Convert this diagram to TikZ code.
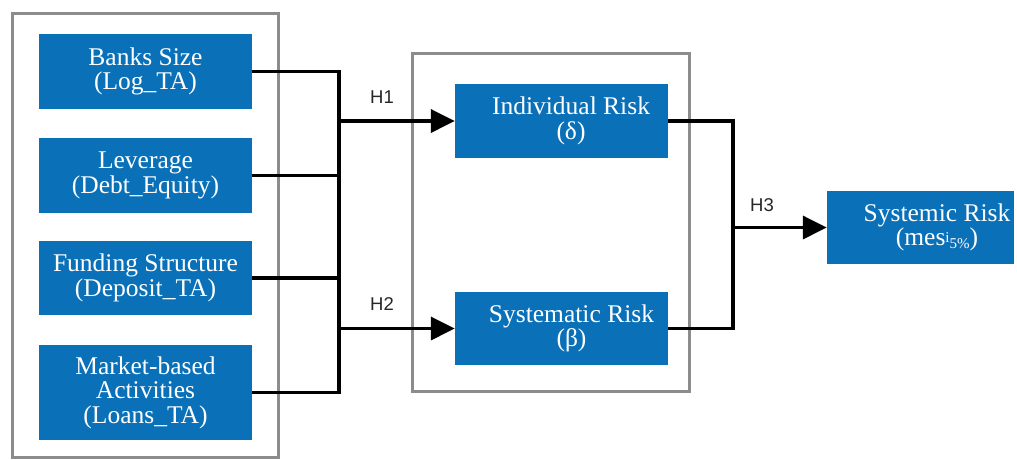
\documentclass[tikz,border=0pt]{standalone}
\usepackage{fontspec}
\setmainfont{Liberation Serif}
\newfontfamily\hfont{Liberation Sans}
\usetikzlibrary{arrows.meta}
\definecolor{boxblue}{RGB}{10,113,185}
\definecolor{framegray}{RGB}{140,140,140}
\begin{document}
\begin{tikzpicture}[x=1pt,y=-1pt,
  frame/.style={draw=framegray,line width=3pt},
  bluebox/.style={fill=boxblue,draw=none,inner sep=0pt},
  boxtext/.style={text=white,align=center,inner sep=0pt,font=\fontsize{25.5}{24.5}\selectfont},
  conn/.style={line width=3.5pt,line join=miter},
  arr/.style={conn,-{Triangle[length=24pt,width=23pt]}},
  hlabel/.style={font=\hfont\fontsize{18.5}{18.5}\selectfont,inner sep=0pt,text=black!85}]
\useasboundingbox (0,0) rectangle (1017,459);
% frames
\draw[frame] (12,13) rectangle (278,457);
\draw[frame] (412,53) rectangle (689,391);
% left boxes
\node[bluebox,minimum width=213pt,minimum height=75pt] (b1) at (145.5,71.5) {};
\node[boxtext] at (b1.center) {Banks Size\\(Log\_TA)};
\node[bluebox,minimum width=213pt,minimum height=75pt] (b2) at (145.5,175.5) {};
\node[boxtext] at (b2.center) {Leverage\\(Debt\_Equity)};
\node[bluebox,minimum width=213pt,minimum height=74pt] (b3) at (145.5,278) {};
\node[boxtext] at (b3.center) {Funding Structure\\(Deposit\_TA)};
\node[bluebox,minimum width=213pt,minimum height=95pt] (b4) at (145.5,392.5) {};
\node[boxtext] at (b4.center) {Market-based\\Activities\\(Loans\_TA)};
% middle boxes
\node[bluebox,minimum width=213pt,minimum height=74pt] (ind) at (561.5,121) {};
\node[boxtext] at ([xshift=9.5pt]ind.center) {Individual Risk\\(δ)};
\node[bluebox,minimum width=213pt,minimum height=73pt] (sys) at (561.5,328.5) {};
\node[boxtext] at ([xshift=10pt]sys.center) {Systematic Risk\\(β)};
% right box
\node[bluebox,minimum width=187pt,minimum height=73pt] (sr) at (920.5,227.5) {};
\node[boxtext] at ([xshift=16.5pt]sr.center) {Systemic Risk\\(mes\raisebox{3pt}{\fontsize{15}{15}\selectfont i}\raisebox{-3pt}{\fontsize{15}{15}\selectfont 5\%})};
% bus coordinates
\coordinate (busl) at (339,0);
\coordinate (busr) at (733,0);
% left connectors
\draw[conn] (b1.east) -| (busl |- b4.east) -- (b4.east);
\draw[conn] (b2.east) -- (b2.east -| busl);
\draw[conn] (b3.east) -- (b3.east -| busl);
\draw[arr] (busl |- ind.west) -- (ind.west);
\draw[arr] (busl |- sys.west) -- (sys.west);
% right connectors
\draw[conn] (ind.east) -| (busr |- sys.east) -- (sys.east);
\draw[arr] (busr |- sr.west) -- (sr.west);
% labels
\node[hlabel] (h1) at (382,97) {H1};
\node[hlabel] (h2) at (382,304) {H2};
\node[hlabel] (h3) at (762,205) {H3};
\end{tikzpicture}
\end{document}
